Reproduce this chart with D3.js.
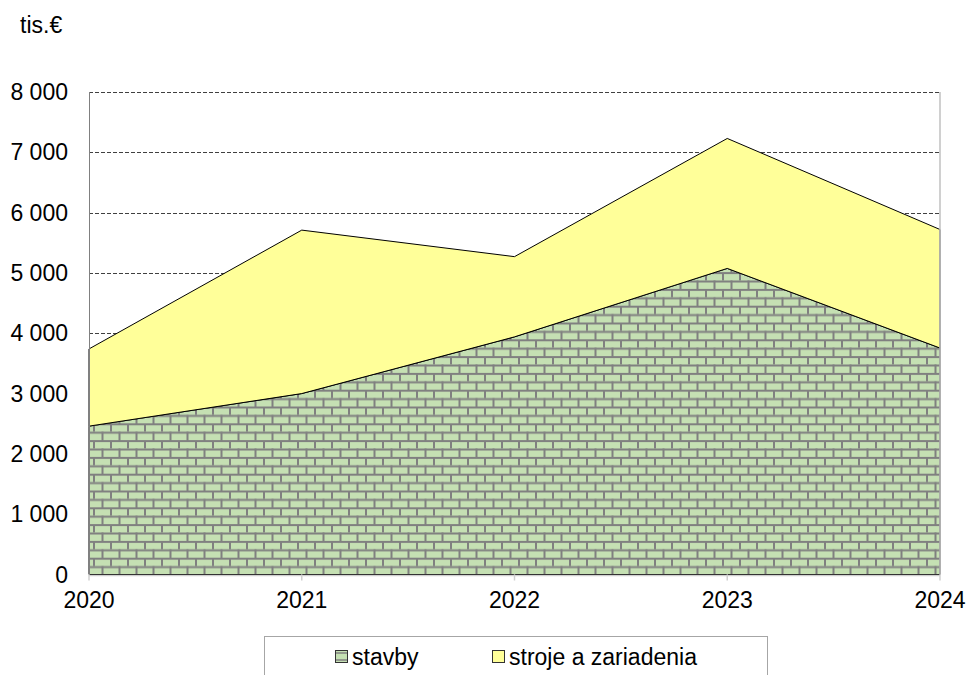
<!DOCTYPE html>
<html>
<head>
<meta charset="utf-8">
<script src="https://cdn.jsdelivr.net/npm/d3@7"></script>
<style>
  html, body { margin: 0; padding: 0; background: #fff; }
  svg { display: block; font-family: "Liberation Sans", Arial, sans-serif; }
</style>
</head>
<body>
<svg id="chart" width="969" height="675"></svg>
<script>
const years = ["2020", "2021", "2022", "2023", "2024"];
const stavby = [2460, 3000, 3940, 5075, 3755];
const stroje = [1280, 2710, 1330, 2155, 1965];
const seriesNames = ["stavby", "stroje a zariadenia"];
const yTicks = [0, 1000, 2000, 3000, 4000, 5000, 6000, 7000, 8000];
const unitLabel = "tis.€";

(function () {
const rows = years.map((y, i) => ({ year: y, stavby: stavby[i], stroje: stroje[i] }));

const svg = d3.select("#chart");
const pLeft = 89, pRight = 940, pTop = 92, pBottom = 574.5;

const x = d3.scalePoint().domain(years).range([pLeft, pRight]);
const y = d3.scaleLinear().domain([0, 8000]).range([pBottom, pTop]);

const loc = d3.formatLocale({ decimal: ",", thousands: " ", grouping: [3], currency: ["", "€"] });
const fmt = loc.format(",d");

// brick pattern
const defs = svg.append("defs");
const bw = 17, bh = 8.4;
const pat = defs.append("pattern")
  .attr("id", "brick")
  .attr("patternUnits", "userSpaceOnUse")
  .attr("x", pLeft).attr("y", pBottom - 2 * bh)
  .attr("width", bw).attr("height", 2 * bh);
pat.append("rect").attr("width", bw).attr("height", 2 * bh).attr("fill", "#c5e0b3");
pat.append("rect").attr("x", 0).attr("y", 0).attr("width", bw).attr("height", 2).attr("fill", "#808080");
pat.append("rect").attr("x", 0).attr("y", bh).attr("width", bw).attr("height", 2).attr("fill", "#808080");
pat.append("rect").attr("x", 4).attr("y", 0).attr("width", 2).attr("height", bh).attr("fill", "#808080");
pat.append("rect").attr("x", 4 + bw / 2).attr("y", bh).attr("width", 2).attr("height", bh).attr("fill", "#808080");

// gridlines
svg.append("g")
  .selectAll("line")
  .data(yTicks.filter(d => d > 0))
  .join("line")
  .attr("x1", pLeft).attr("x2", pRight)
  .attr("y1", d => Math.round(y(d)) + 0.5).attr("y2", d => Math.round(y(d)) + 0.5)
  .attr("stroke", "#404040")
  .attr("stroke-width", 1)
  .attr("stroke-dasharray", "4,2");

// stacked areas
const stack = d3.stack().keys(["stavby", "stroje"]);
const layers = stack(rows);
const area = d3.area()
  .x(d => x(d.data.year))
  .y0(d => y(d[0]))
  .y1(d => y(d[1]));
const fills = ["url(#brick)", "#ffff99"];

svg.append("g")
  .selectAll("path")
  .data(layers)
  .join("path")
  .attr("d", area)
  .attr("fill", (d, i) => fills[i])
  .attr("stroke", "#000")
  .attr("stroke-width", 1)
  .attr("stroke-linejoin", "miter");

// plot borders
svg.append("line").attr("x1", pRight).attr("x2", pRight).attr("y1", pTop).attr("y2", pBottom)
  .attr("stroke", "#c0c0c0").attr("stroke-width", 1.5);
svg.append("line").attr("x1", pLeft + 0.5).attr("x2", pLeft + 0.5).attr("y1", pTop).attr("y2", pBottom)
  .attr("stroke", "#808080").attr("stroke-width", 1);

// x axis
const xAxis = svg.append("g");
xAxis.append("line").attr("x1", pLeft).attr("x2", pRight).attr("y1", pBottom + 1).attr("y2", pBottom + 1)
  .attr("stroke", "#d0d0d0").attr("stroke-width", 1.5);
xAxis.selectAll("line.tick")
  .data(years)
  .join("line")
  .attr("class", "tick")
  .attr("x1", d => x(d)).attr("x2", d => x(d))
  .attr("y1", pBottom).attr("y2", pBottom + 6)
  .attr("stroke", "#d0d0d0").attr("stroke-width", 1.5);
xAxis.selectAll("text")
  .data(years)
  .join("text")
  .attr("x", d => x(d))
  .attr("y", 608)
  .attr("text-anchor", "middle")
  .attr("font-size", 23)
  .attr("fill", "#000")
  .text(d => d);

// y labels
svg.append("g")
  .selectAll("text")
  .data(yTicks)
  .join("text")
  .attr("x", 68)
  .attr("y", d => y(d))
  .attr("dy", "0.35em")
  .attr("text-anchor", "end")
  .attr("font-size", 23)
  .attr("fill", "#000")
  .text(d => fmt(d));

svg.append("text")
  .attr("x", 20).attr("y", 33)
  .attr("font-size", 23)
  .attr("fill", "#000")
  .text(unitLabel);

// legend
const lg = svg.append("g");
lg.append("rect")
  .attr("x", 264.5).attr("y", 636.5).attr("width", 503).attr("height", 60)
  .attr("fill", "#fff").attr("stroke", "#a6a6a6").attr("stroke-width", 1);
const legItems = [
  { name: seriesNames[0], fill: "#c5e0b3", sx: 335, tx: 352 },
  { name: seriesNames[1], fill: "#ffff99", sx: 492, tx: 509 }
];
legItems.forEach((it, i) => {
  lg.append("rect")
    .attr("x", it.sx + 0.5).attr("y", 650.5).attr("width", 12).attr("height", 12)
    .attr("fill", it.fill).attr("stroke", "#333").attr("stroke-width", 1);
  if (i === 0) {
    lg.append("line").attr("x1", it.sx + 1).attr("x2", it.sx + 12).attr("y1", 653).attr("y2", 653)
      .attr("stroke", "#808080").attr("stroke-width", 1.5);
    lg.append("line").attr("x1", it.sx + 1).attr("x2", it.sx + 12).attr("y1", 660).attr("y2", 660)
      .attr("stroke", "#808080").attr("stroke-width", 1.5);
  }
  lg.append("text")
    .attr("x", it.tx).attr("y", 665)
    .attr("font-size", 23)
    .attr("fill", "#000")
    .text(it.name);
});
})();
</script>
</body>
</html>
